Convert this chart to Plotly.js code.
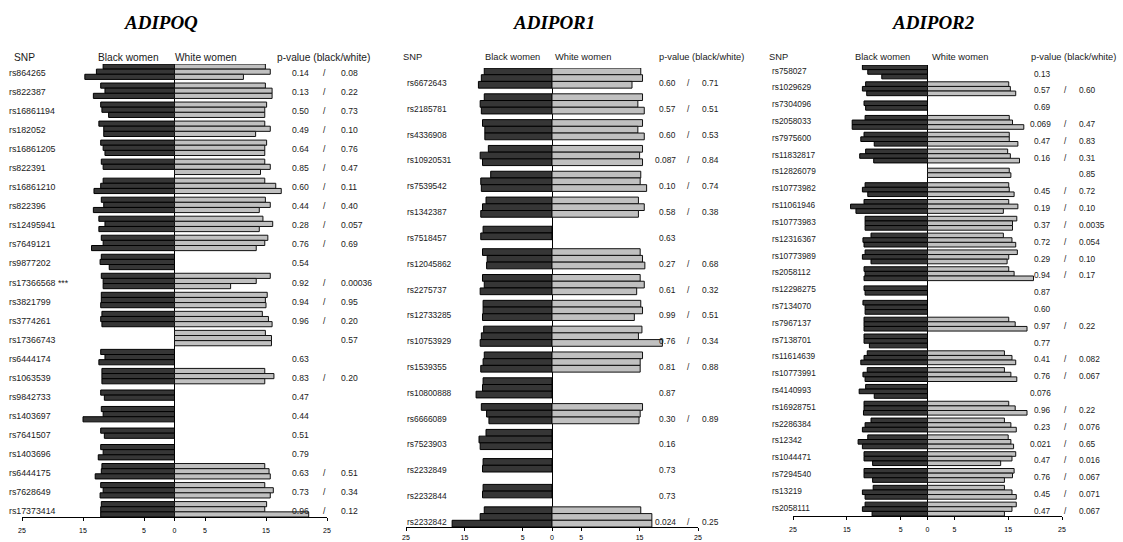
<!DOCTYPE html>
<html><head><meta charset="utf-8">
<script src="https://cdn.plot.ly/plotly-3.0.1.min.js"></script>
<style>html,body{margin:0;padding:0;background:#fff}#chart{width:1123px;height:542px}</style>
</head><body><div id="chart"></div>
<script>
// ---------------- DATA ----------------
const adipoqSnps = ["rs864265","rs822387","rs16861194","rs182052","rs16861205","rs822391","rs16861210","rs822396","rs12495941","rs7649121","rs9877202","rs17366568 ***","rs3821799","rs3774261","rs17366743","rs6444174","rs1063539","rs9842733","rs1403697","rs7641507","rs1403696","rs6444175","rs7628649","rs17373414"];
const adipoqBlack = [[11.7,12.8,14.7],[12.1,11.4,13.3],[12.1,11.9,10.8],[12.4,11.6,11.6],[12.1,11.7,11.4],[12.0,11.7,null],[11.7,12.1,13.2],[12.0,11.6,13.3],[12.4,11.4,12.4],[12.0,11.7,13.6],[12.0,12.2,10.7],[12.0,11.7,11.7],[12.0,12.0,12.1],[11.9,12.1,11.9],[null,null,null],[12.1,11.4,12.4],[11.9,11.9,11.9],[12.1,11.5,null],[12.0,11.7,15.0],[12.1,11.5,null],[12.1,11.7,12.5],[11.9,12.0,13.0],[12.1,11.7,12.2],[12.0,12.1,12.1]];
const adipoqWhite = [[14.9,15.7,11.3],[14.9,16.0,16.0],[15.1,14.8,14.8],[14.8,15.7,13.3],[15.1,14.8,14.8],[14.8,15.7,14.1],[14.8,16.6,17.5],[14.9,15.7,13.9],[14.5,16.1,13.9],[15.3,14.8,13.4],[null,null,null],[15.7,13.4,9.2],[15.2,14.9,15.0],[14.4,15.4,16.0],[14.9,15.9,15.9],[null,null,null],[14.8,16.3,14.8],[null,null,null],[null,null,null],[null,null,null],[null,null,null],[14.8,15.5,15.7],[14.8,16.2,15.7],[15.1,14.8,22.0]];
const adipoqPBlack = ["0.14","0.13","0.50","0.49","0.64","0.85","0.60","0.44","0.28","0.76","0.54","0.92","0.94","0.96","","0.63","0.83","0.47","0.44","0.51","0.79","0.63","0.73","0.96"];
const adipoqPWhite = ["0.08","0.22","0.73","0.10","0.76","0.47","0.11","0.40","0.057","0.69","","0.00036","0.95","0.20","0.57","","0.20","","","","","0.51","0.34","0.12"];

const adipor1Snps = ["rs6672643","rs2185781","rs4336908","rs10920531","rs7539542","rs1342387","rs7518457","rs12045862","rs2275737","rs12733285","rs10753929","rs1539355","rs10800888","rs6666089","rs7523903","rs2232849","rs2232844","rs2232842"];
const adipor1Black = [[11.6,12.1,12.6],[11.6,12.3,12.1],[11.9,11.5,11.5],[10.9,12.3,11.9],[10.5,12.2,12.1],[11.3,11.9,12.2],[11.8,12.2,null],[11.9,11.1,11.2],[11.9,11.6,12.3],[11.8,11.8,11.9],[11.7,12.1,12.3],[11.6,11.8,12.2],[11.8,11.9,13.0],[12.1,11.2,10.8],[11.3,12.5,12.3],[11.8,11.9,null],[11.8,11.9,null],[11.6,12.3,17.1]];
const adipor1White = [[15.2,15.5,13.7],[15.5,14.7,15.8],[15.5,14.7,15.8],[15.5,15.0,15.5],[15.2,15.1,16.2],[14.8,15.8,14.8],[null,null,null],[15.1,15.5,15.9],[15.1,15.8,14.5],[15.2,15.5,14.1],[15.4,14.8,18.9],[15.5,15.1,15.1],[null,null,null],[15.5,15.1,14.9],[null,null,null],[null,null,null],[null,null,null],[15.2,17.1,17.1]];
const adipor1PBlack = ["0.60","0.57","0.60","0.087","0.10","0.58","0.63","0.27","0.61","0.99","0.76","0.81","0.87","0.30","0.16","0.73","0.73","0.024"];
const adipor1PWhite = ["0.71","0.51","0.53","0.84","0.74","0.38","","0.68","0.32","0.51","0.34","0.88","","0.89","","","","0.25"];

const adipor2Snps = ["rs758027","rs1029629","rs7304096","rs2058033","rs7975600","rs11832817","rs12826079","rs10773982","rs11061946","rs10773983","rs12316367","rs10773989","rs2058112","rs12298275","rs7134070","rs7967137","rs7138701","rs11614639","rs10773991","rs4140993","rs16928751","rs2286384","rs12342","rs1044471","rs7294540","rs13219","rs2058111"];
const adipor2Black = [[12.1,11.1,8.5],[11.5,12.1,11.3],[11.8,11.5,null],[11.6,14.0,14.0],[11.8,12.4,9.9],[11.5,12.6,10.0],[null,null,null],[11.6,12.1,11.1],[11.8,14.3,13.3],[11.6,11.6,11.6],[10.5,12.0,11.8],[11.6,12.1,10.5],[11.8,11.6,11.8],[11.8,11.6,null],[12.0,11.6,11.6],[11.8,11.8,11.8],[11.8,11.8,10.8],[11.2,11.8,12.4],[11.2,12.0,11.6],[11.5,12.7,9.9],[11.8,11.8,11.9],[10.5,11.6,12.1],[11.1,12.9,12.1],[11.8,11.8,10.2],[11.8,11.8,10.2],[10.1,12.1,11.6],[11.6,12.1,10.3]];
const adipor2White = [[null,null,null],[15.1,15.4,16.4],[null,null,null],[15.2,15.8,17.9],[15.2,15.2,16.8],[14.9,15.4,17.1],[15.2,15.5,null],[15.1,15.2,16.1],[15.1,16.8,14.1],[16.6,15.8,15.8],[14.1,15.7,16.4],[16.7,15.1,14.8],[15.1,16.1,19.7],[null,null,null],[null,null,null],[15.1,16.3,18.5],[null,null,null],[14.3,15.7,16.4],[14.3,15.5,16.6],[null,null,null],[15.1,16.3,18.5],[14.3,15.5,16.5],[15.0,15.5,16.0],[16.4,15.7,13.6],[16.1,15.8,14.3],[14.3,15.7,16.5],[16.5,15.7,14.3]];
const adipor2PBlack = ["0.13","0.57","0.69","0.069","0.47","0.16","","0.45","0.19","0.37","0.72","0.29","0.94","0.87","0.60","0.97","0.77","0.41","0.76","0.076","0.96","0.23","0.021","0.47","0.76","0.45","0.47"];
const adipor2PWhite = ["","0.60","","0.47","0.83","0.31","0.85","0.72","0.10","0.0035","0.054","0.10","0.17","","","0.22","","0.082","0.067","","0.22","0.076","0.65","0.016","0.067","0.071","0.067"];

const geneTitles = ["ADIPOQ","ADIPOR1","ADIPOR2"];
const axisTickVals = [-25,-15,-5,0,5,15,25];
const axisTickText = ["25","15","5","0","5","15","25"];

// ---------------- LAYOUT GEOMETRY (pixels) ----------------
const W = 1123, H = 542;
const panels = [
  {snps:adipoqSnps, black:adipoqBlack, white:adipoqWhite, pb:adipoqPBlack, pw:adipoqPWhite,
   x0:22, x1:327, top:64, bottom:517, bw:0.27, labelX:7, labelDy:0.08, pDy:0.08,
   pbRight:311, slashX:324, pwLeft:339, labFs:8.8, pFs:8.6, hdrFs:10.2, standoff:4,
   hdr:{snp:12, black:96, white:173, p:275}, titleX:161},
  {snps:adipor1Snps, black:adipor1Black, white:adipor1White, pb:adipor1PBlack, pw:adipor1PWhite,
   x0:406, x1:698, top:68, bottom:527, bw:0.26, labelX:405, labelDy:0.19, pDy:0.19,
   pbRight:678, slashX:688, pwLeft:700, labFs:8.4, pFs:8.4, hdrFs:9.3, standoff:1,
   hdr:{snp:401, black:483, white:553, p:657}, titleX:554},
  {snps:adipor2Snps, black:adipor2Black, white:adipor2White, pb:adipor2PBlack, pw:adipor2PWhite,
   x0:793, x1:1062, top:65, bottom:516, bw:0.275, labelX:770, labelDy:-0.08, pDy:0.1,
   pbRight:1053, slashX:1065, pwLeft:1077, labFs:8.3, pFs:8.3, hdrFs:9.3, standoff:4,
   hdr:{snp:767, black:853, white:930, p:1029}, titleX:933}
];

const FONT = "Liberation Sans, Arial, Helvetica, sans-serif";
const TXT = "#1a1a1a";
const traces = [];
const annotations = [];
const layout = {
  width: W, height: H, margin:{l:0,r:0,t:0,b:0},
  paper_bgcolor:"#fff", plot_bgcolor:"rgba(0,0,0,0)",
  showlegend:false, barmode:"overlay", annotations: annotations,
  font:{family:FONT, color:TXT}
};

function positions(vals, other, row, bw){
  const present = vals.map(v => v !== null && v !== undefined);
  const otherEmpty = other.every(v => v === null || v === undefined);
  const idx = [];
  present.forEach((p,j)=>{ if(p) idx.push(j); });
  const out = [];
  if (otherEmpty) {
    const k = idx.length;
    idx.forEach((j,m)=> out.push({v:vals[j], y: row + (m - (k-1)/2)*bw}));
  } else {
    idx.forEach(j=> out.push({v:vals[j], y: row + (j-1)*bw}));
  }
  return out;
}

panels.forEach((P, pi) => {
  const n = P.snps.length;
  const ax = pi === 0 ? "" : String(pi+1);
  const xa = "x"+ax, ya = "y"+ax;
  const bx = [], by = [], bt = [], wx = [], wy = [], wt = [];
  for (let i=0;i<n;i++){
    positions(P.black[i], P.white[i], i, P.bw).forEach(o=>{ bx.push(-o.v); by.push(o.y); bt.push(P.snps[i]+": "+o.v); });
    positions(P.white[i], P.black[i], i, P.bw).forEach(o=>{ wx.push(o.v); wy.push(o.y); wt.push(P.snps[i]+": "+o.v); });
  }
  traces.push({type:"bar", orientation:"h", x:bx, y:by, width:P.bw, xaxis:xa, yaxis:ya,
    name:"Black women", text:bt, hoverinfo:"text", textposition:"none",
    marker:{color:"#363636", line:{color:"#000", width:1}}});
  traces.push({type:"bar", orientation:"h", x:wx, y:wy, width:P.bw, xaxis:xa, yaxis:ya,
    name:"White women", text:wt, hoverinfo:"text", textposition:"none",
    marker:{color:"#c0c0c0", line:{color:"#111", width:1}}});

  layout["xaxis"+ax] = {
    domain:[P.x0/W, P.x1/W], anchor:ya, range:[-25,25],
    tickvals:axisTickVals, ticktext:axisTickText, ticks:"outside", ticklen:3, tickwidth:1, tickcolor:"#000",
    tickfont:{size:7, color:"#000", family:FONT}, ticklabelstandoff:P.standoff,
    showline:true, linecolor:"#000", linewidth:1, showgrid:false,
    zeroline:true, zerolinecolor:"#000", zerolinewidth:1, fixedrange:true
  };
  const half = 1.5*P.bw;
  layout["yaxis"+ax] = {
    domain:[1-P.bottom/H, 1-P.top/H], anchor:xa, range:[n-1+half, -half],
    showticklabels:false, ticks:"", showgrid:false, zeroline:false, showline:false, fixedrange:true
  };

  annotations.push({xref:"paper", yref:"paper", x:P.titleX/W, y:1-22/H, xanchor:"center", yanchor:"middle",
    text:"<b><i>"+geneTitles[pi]+"</i></b>", showarrow:false,
    font:{family:"Liberation Serif, Times New Roman, serif", size:19, color:"#000"}});
  const hdrs = [["SNP",P.hdr.snp],["Black women",P.hdr.black],["White women",P.hdr.white],["p-value (black/white)",P.hdr.p]];
  hdrs.forEach(h=> annotations.push({xref:"paper", yref:"paper", x:h[1]/W, y:1-57/H, xanchor:"left", yanchor:"middle",
    text:h[0], showarrow:false, font:{size:P.hdrFs, color:TXT, family:FONT}}));
  for (let i=0;i<n;i++){
    annotations.push({xref:"paper", yref:ya, x:P.labelX/W, y:i+P.labelDy, xanchor:"left", yanchor:"middle",
      text:P.snps[i], showarrow:false, font:{size:P.labFs, color:TXT, family:FONT}});
    if (P.pb[i]) annotations.push({xref:"paper", yref:ya, x:P.pbRight/W, y:i+P.pDy, xanchor:"right", yanchor:"middle",
      text:P.pb[i], showarrow:false, font:{size:P.pFs, color:TXT, family:FONT}});
    if (P.pb[i] && P.pw[i]) annotations.push({xref:"paper", yref:ya, x:P.slashX/W, y:i+P.pDy, xanchor:"center", yanchor:"middle",
      text:"/", showarrow:false, font:{size:P.pFs, color:TXT, family:FONT}});
    if (P.pw[i]) annotations.push({xref:"paper", yref:ya, x:P.pwLeft/W, y:i+P.pDy, xanchor:"left", yanchor:"middle",
      text:P.pw[i], showarrow:false, font:{size:P.pFs, color:TXT, family:FONT}});
  }
});

Plotly.newPlot("chart", traces, layout, {displayModeBar:false});
</script>
</body></html>
